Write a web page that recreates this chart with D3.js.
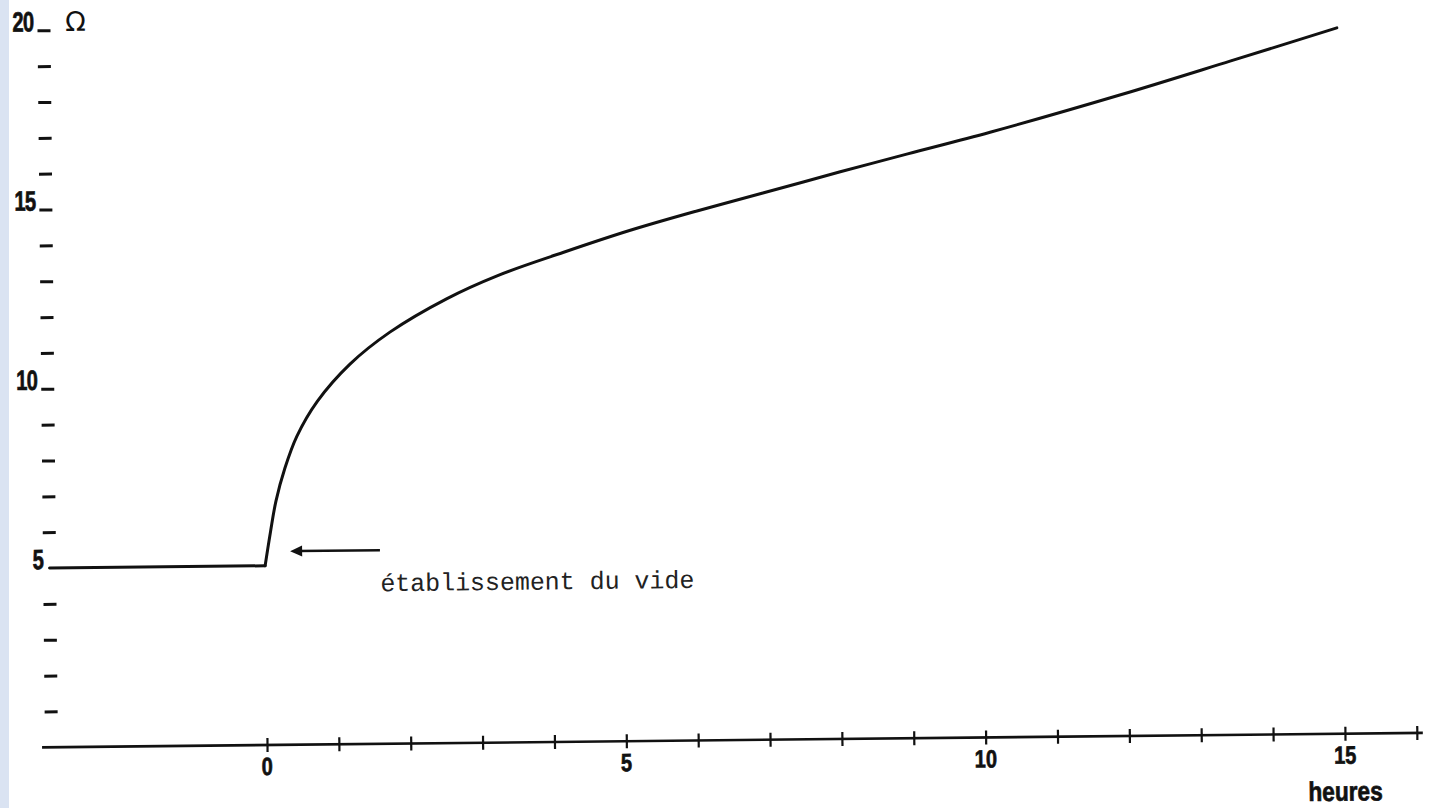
<!DOCTYPE html>
<html>
<head>
<meta charset="utf-8">
<script src="https://cdn.jsdelivr.net/npm/d3@7"></script>
<style>
  html, body { margin: 0; padding: 0; background: #ffffff; }
  svg { display: block; }
</style>
</head>
<body>
<script>
// Resistance (Ω) versus time (heures) — pumping down starts at t = 0
const hours = [-3.0, 0, 0.08, 0.16, 0.29, 0.46, 0.75, 1.21, 1.77, 2.57, 3.27, 4.19, 5.13, 6.06, 6.98, 8.06, 9.0, 10.15, 11.96, 13.51, 14.99];
const ohms  = [5.0, 5.0, 5.95, 6.8, 7.72, 8.6, 9.57, 10.6, 11.48, 12.4, 13.02, 13.65, 14.25, 14.77, 15.25, 15.82, 16.3, 16.88, 17.88, 18.8, 19.69];

const xTickValues = [0,1,2,3,4,5,6,7,8,9,10,11,12,13,14,15,16];
const xTickLabels = [0, 5, 10, 15];
const yTickValues = [1,2,3,4,6,7,8,9,10,11,12,13,14,15,16,17,18,19,20];
const yTickLabels = [5, 10, 15, 20];

const W = 1437, H = 808;
const svg = d3.select("body").append("svg").attr("width", W).attr("height", H);

// pale strip on the left edge
svg.append("rect").attr("x", 0).attr("y", 0).attr("width", 9).attr("height", H).attr("fill", "#dae3f2");

const x = d3.scaleLinear().domain([0, 15]).range([267, 1345]);
const y = d3.scaleLinear().domain([0, 20]).range([745, 28]);

// the whole sheet sits at a slight tilt
const g = svg.append("g").attr("transform", "rotate(-0.6, 267, 745)");

const ink = "#111";
const boldText = sel => sel
  .attr("font-family", "Liberation Sans, Arial, sans-serif")
  .attr("font-weight", "bold")
  .attr("fill", ink)
  .attr("stroke", ink)
  .attr("stroke-width", 0.7);

// horizontal time axis with crossing ticks
const xAxis = d3.axisBottom(x).tickValues(xTickValues).tickSize(7).tickFormat("");
const xg = g.append("g").attr("transform", `translate(0,${y(0)})`).call(xAxis);
xg.select(".domain").remove();
xg.selectAll(".tick line").attr("y1", -7).attr("y2", 7).attr("stroke", ink).attr("stroke-width", 2.2);
xg.append("line")
  .attr("x1", x(-3.13)).attr("x2", x(16) + 6)
  .attr("y1", 0).attr("y2", 0)
  .attr("stroke", ink).attr("stroke-width", 2.6);

g.selectAll("text.xl").data(xTickLabels).join("text")
  .attr("class", "xl")
  .attr("transform", d => `translate(${x(d)},${y(0) + 30}) scale(0.8,1)`)
  .attr("text-anchor", "middle")
  .attr("font-size", 25)
  .call(boldText)
  .text(d => d);

g.append("text")
  .attr("transform", `translate(${x(15)},${y(0) + 67}) scale(0.84,1)`)
  .attr("text-anchor", "middle")
  .attr("font-size", 27)
  .call(boldText)
  .text("heures");

// vertical scale: short dashes only, no axis line
const yAxis = d3.axisLeft(y).tickValues(yTickValues).tickSize(13).tickFormat("");
const yg = g.append("g").attr("transform", "translate(58,0)").call(yAxis);
yg.select(".domain").remove();
yg.selectAll(".tick line").attr("stroke", ink).attr("stroke-width", 3);

g.selectAll("text.yl").data(yTickLabels).join("text")
  .attr("class", "yl")
  .attr("transform", d => `translate(${d === 5 ? 45 : 41},${y(d) + 1}) scale(0.72,1)`)
  .attr("text-anchor", "end")
  .attr("font-size", 28)
  .attr("letter-spacing", -1)
  .call(boldText)
  .text(d => d);

g.append("text")
  .attr("x", 83).attr("y", y(20) + 1)
  .attr("text-anchor", "middle")
  .attr("font-family", "DejaVu Sans, sans-serif")
  .attr("font-size", 27)
  .attr("fill", ink)
  .text("Ω");

// resistance curve: flat plateau, then a smooth rise once the vacuum is on
const pts = hours.map((h, i) => [h, ohms[i]]);
const flat = d3.line().x(d => x(d[0])).y(d => y(d[1]));
const rise = d3.line().x(d => x(d[0])).y(d => y(d[1])).curve(d3.curveCatmullRom.alpha(0.5));

g.append("path").attr("d", flat(pts.slice(0, 2)))
  .attr("fill", "none").attr("stroke", ink).attr("stroke-width", 3).attr("stroke-linecap", "round");
g.append("path").attr("d", rise(pts.slice(1)))
  .attr("fill", "none").attr("stroke", ink).attr("stroke-width", 3)
  .attr("stroke-linecap", "round").attr("stroke-linejoin", "round");

// annotation arrow pointing at the start of pumping
const arrowY = y(5.4);
const ax0 = x(0.35), ax1 = x(1.6);
g.append("line")
  .attr("x1", ax0 + 8).attr("x2", ax1)
  .attr("y1", arrowY).attr("y2", arrowY)
  .attr("stroke", ink).attr("stroke-width", 2.6);
g.append("path")
  .attr("d", `M${ax0},${arrowY} L${ax0 + 12},${arrowY - 5.5} L${ax0 + 12},${arrowY + 5.5} Z`)
  .attr("fill", ink);

g.append("text")
  .attr("x", x(1.6)).attr("y", arrowY + 41)
  .attr("font-family", "Liberation Mono, Courier New, monospace")
  .attr("font-size", 25)
  .attr("textLength", 314)
  .attr("lengthAdjust", "spacingAndGlyphs")
  .attr("fill", "#222")
  .text("établissement du vide");
</script>
</body>
</html>
